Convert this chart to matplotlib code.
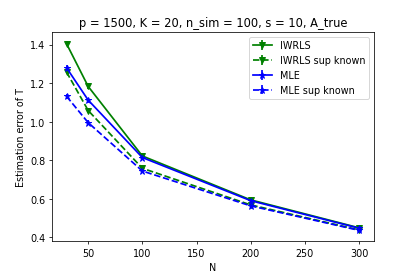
import matplotlib
matplotlib.use("Agg")
import matplotlib.pyplot as plt

N = [30, 50, 100, 200, 300]
iwrls = [1.405, 1.183, 0.822, 0.594, 0.449]
iwrls_sup = [1.258, 1.058, 0.758, 0.568, 0.438]
mle = [1.280, 1.112, 0.814, 0.590, 0.447]
mle_sup = [1.132, 0.995, 0.744, 0.563, 0.436]
iwrls_err = [0.012, 0.012, 0.01, 0.01, 0.008]
iwrls_sup_err = [0.012, 0.012, 0.01, 0.01, 0.008]
mle_err = [0.014, 0.013, 0.011, 0.01, 0.009]
mle_sup_err = [0.013, 0.012, 0.01, 0.01, 0.008]

fig, ax = plt.subplots(figsize=(6, 4), dpi=69.2)
fig.subplots_adjust(left=0.125, right=0.9, bottom=0.125, top=0.882)
kw = dict(linewidth=1.8, markersize=7)
ax.errorbar(N, iwrls, yerr=iwrls_err, color='green', marker='v', linestyle='-', label='IWRLS', **kw)
ax.errorbar(N, iwrls_sup, yerr=iwrls_sup_err, color='green', marker='v', linestyle='--', label='IWRLS sup known', **kw)
ax.errorbar(N, mle, yerr=mle_err, color='blue', marker='*', linestyle='-', label='MLE', **kw)
ax.errorbar(N, mle_sup, yerr=mle_sup_err, color='blue', marker='*', linestyle='--', label='MLE sup known', **kw)
ax.set_xlabel('N')
ax.set_ylabel('Estimation error of T')
ax.set_title('p = 1500, K = 20, n_sim = 100, s = 10, A_true')
ax.legend()
fig.savefig('out.png')
